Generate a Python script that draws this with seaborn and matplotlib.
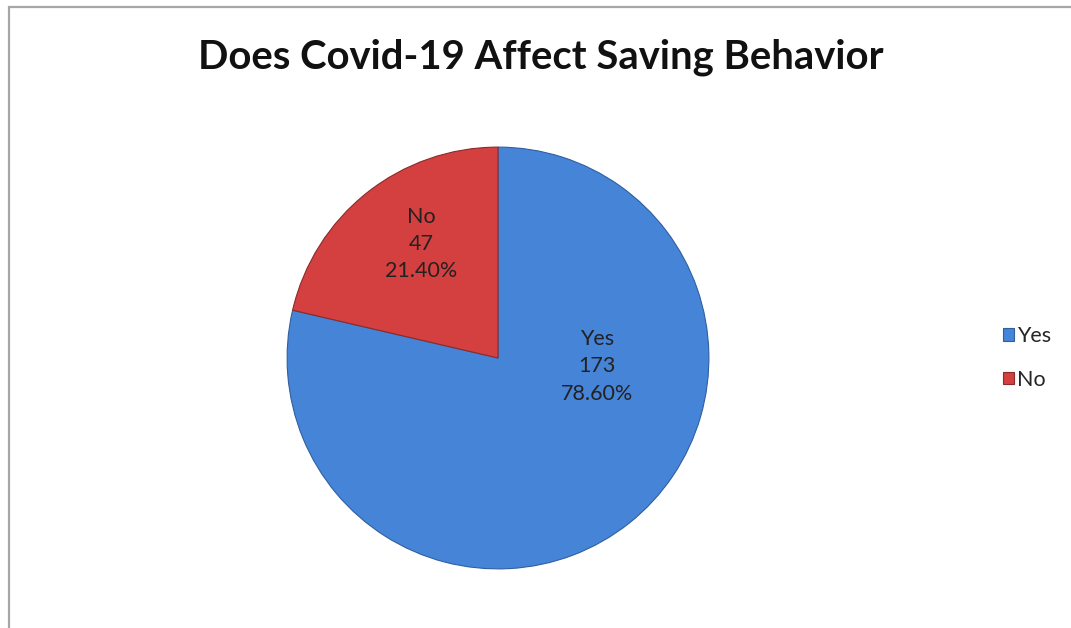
import matplotlib
matplotlib.use("Agg")
import matplotlib.pyplot as plt
import seaborn as sns
from matplotlib.patches import Rectangle

categories = ["Yes", "No"]
counts = [173, 47]
percents = ["78.60%", "21.40%"]
colors = ["#4684D8", "#D43F3F"]
title = "Does Covid-19 Affect Saving Behavior"

sns.set_style("white")
plt.rcParams["font.family"] = ["Lato", "DejaVu Sans"]

W, H = 1071, 628
fig = plt.figure(figsize=(W / 100, H / 100), dpi=100)
fig.patch.set_facecolor("white")

# outer frame
fig.patches.append(Rectangle((9 / W, -0.01), 1.02, 1 - 7 / H + 0.01, transform=fig.transFigure,
                             fill=False, edgecolor="#a6a6a6", linewidth=1.6))

cx, cy, r = 498, 358, 213
ax = fig.add_axes([(cx - r) / W, (H - cy - r) / H, 2 * r / W, 2 * r / H])
wedges, _ = ax.pie(counts, colors=colors, startangle=90, counterclock=False,
                   radius=1.0, wedgeprops=dict(edgecolor="#2f5f9e", linewidth=0.8))
wedges[1].set_edgecolor("#8c2a2a")
ax.set_xlim(-1.01, 1.01)
ax.set_ylim(-1.01, 1.01)
ax.set_aspect("equal")
ax.axis("off")

label_pos = [(0.47, -0.04), (-0.366, 0.54)]
for cat, n, p, (x, y) in zip(categories, counts, percents, label_pos):
    ax.text(x, y, f"{cat}\n{n}\n{p}", ha="center", va="center", fontsize=15.5,
            color="#222222", linespacing=1.45)

fig.text(541 / W, 1 - 57 / H, title, ha="center", va="center", fontsize=28.8,
         fontweight="bold", color="#111111")

leg = fig.legend(wedges, categories, loc="center left",
                 bbox_to_anchor=(992 / W, 1 - 358 / H), frameon=False,
                 fontsize=15.5, handlelength=0.5, handleheight=0.5,
                 handletextpad=0.15, labelspacing=1.1, borderpad=0)

fig.savefig("out.png", dpi=100, facecolor="white")
